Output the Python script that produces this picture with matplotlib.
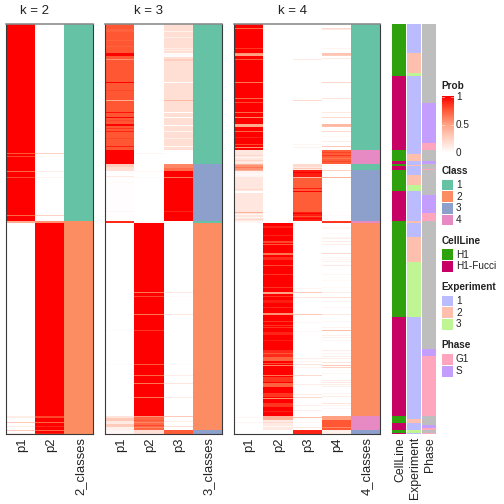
import numpy as np
import matplotlib
matplotlib.use("Agg")
import matplotlib.pyplot as plt
from matplotlib.colors import LinearSegmentedColormap, ListedColormap
from matplotlib.patches import Rectangle
from matplotlib.transforms import ScaledTranslation

plt.rcParams['font.family'] = ['Liberation Sans', 'DejaVu Sans']

N_ROWS = 410

# ---- probability columns: runs = (end_row, prob), lines = (row, prob) one row high
k2_p1_runs = [(197, 1.0), (199, .45), (392, 0), (394, .1), (410, 0)]
k2_p1_lines = [(129, .75), (132, .8), (147, .7), (153, .8), (191, .7), (398, .3), (402, .1), (406, .3), (409, .1)]
k2_p2_runs = [(197, 0), (199, .55), (392, 1.0), (394, .8), (410, 1.0)]
k2_p2_lines = [(129, .25), (132, .03), (147, .1), (153, .05), (191, .25), (398, .7), (402, .9), (406, .7), (409, .9)]
k2_classes_runs = [(197, 1), (410, 2)]

k3_p1_runs = [(5, .76), (8, .72), (29, .76), (32, 1.0), (88, .76), (89, .95), (126, .76), (140, 1.0), (143, .28), (147, .18), (197, .01), (199, .88),
              (392, 0), (394, .15), (397, .3), (400, .12), (403, .28), (406, .08), (410, .04)]
k3_p1_lines = [(16, .72), (22, .72), (35, .55), (58, 1), (66, .8), (76, .45), (93, 1), (96, .8), (100, 1), (101, 1), (104, .85), (107, .9), (114, .8), (122, .92),
               (152, .12), (158, .03), (187, .04), (306, .02), (340, .02)]
k3_p2_runs = [(197, 0), (199, .04), (392, 1.0), (406, .7), (410, .17)]
k3_p2_lines = [(129, .05), (147, .05), (153, .02), (268, .65), (272, .8), (290, .65), (306, .85), (340, .75), (351, .7), (359, .65), (373, .65),
               (392, .55), (396, .75), (398, .6), (401, .8), (403, .6)]
k3_p3_runs = [(29, .18), (33, .02), (35, .18), (37, .27), (126, .18), (140, 0), (144, .6), (147, .68), (197, 1.0), (199, .01), (406, 0), (410, .74)]
k3_p3_lines = [(7, .08), (13, .1), (24, .1), (26, .1), (58, 0), (76, .38), (88, 0), (93, 0), (101, 0), (107, .05), (114, .1), (122, .03),
               (153, .65), (187, .9), (268, .12), (272, .03), (290, .13), (340, .02), (351, .1), (359, .13), (373, .1),
               (392, .3), (397, .1), (402, .18)]
k3_classes_runs = [(140, 1), (197, 3), (199, 1), (406, 2), (410, 3)]

k4_p1_runs = [(126, 1.0), (140, .14), (147, .55), (153, .06), (197, .14), (199, .04), (410, 0)]
k4_p1_lines = [(4, .7), (24, .85), (29, .55), (30, .5), (31, .5), (35, .75), (58, .65), (74, .7), (78, .8), (88, .7), (93, .6), (100, .45), (101, .45), (102, .45),
               (107, .7), (113, .9), (120, .8), (123, .55),
               (131, .22), (133, .06), (136, .24), (138, .1), (140, .42), (143, .65), (146, .42), (150, .02), (165, .22), (167, 0), (168, 0),
               (188, .42), (190, .05), (193, .05), (195, .2),
               (393, .05), (398, .05)]
k4_p2_runs = [(199, 0), (202, 1.0), (204, .9), (217, 1.0), (219, .8), (229, 1.0), (231, .65), (233, 1.0), (236, .88), (268, 1.0), (270, .5), (276, 1.0), (279, .92),
              (289, 1.0), (291, .55), (308, 1.0), (311, .9), (326, 1.0), (333, .88), (337, .72), (353, 1.0), (358, .85), (359, 1.0), (363, .72),
              (369, 1.0), (373, .85), (379, 1.0), (383, .85), (392, 1.0), (396, .42), (406, .12), (410, 0)]
k4_p2_lines = [(211, .9), (220, .75), (241, .8), (250, .85), (263, .85), (272, .85), (283, .88), (297, .85), (301, .85), (303, .85), (316, .92), (329, .75),
               (339, .8), (341, .6), (351, .65), (374, .55), (387, .9), (398, .2), (402, .05)]
k4_p3_runs = [(140, 0), (143, .2), (146, .12), (153, .92), (188, .74), (197, .92), (392, 0), (406, 0), (410, .9)]
k4_p3_lines = [(35, .12), (76, .2), (120, .05), (123, .07), (144, .3), (148, 1), (153, .4), (154, .74), (164, .92), (167, 1), (189, 1), (192, .78), (194, 1),
               (264, .05), (268, .3), (273, .13), (290, .3), (298, .04), (307, .03), (334, .1), (337, .06), (340, .15), (343, .05), (351, .2),
               (360, .1), (370, .1), (373, .2), (381, .08), (386, .08), (393, .35), (398, .05), (403, .12)]
k4_p4_runs = [(126, 0), (140, .74), (197, 0), (199, .85), (392, 0), (396, .5), (406, .76), (410, .08)]
k4_p4_lines = [(4, .2), (5, .12), (24, .05), (29, .32), (30, .32), (31, .28), (34, .12), (58, .22), (74, .15), (88, .12), (93, .22), (100, .38), (101, .38), (102, .35),
               (107, .2), (112, .03), (117, .1), (122, .3), (128, .82), (131, .85), (134, .65), (137, .8),
               (141, .05), (146, .25), (153, .4), (191, .03), (204, .05), (209, .03), (213, .05), (203, .04), (214, .08), (217, .1), (220, .1), (229, .2),
               (233, .04), (235, .04), (237, .08), (241, .12), (250, .05), (256, .03), (263, .03), (268, .1), (273, .18), (277, .05), (283, .04), (290, .12), (297, .04), (303, .07),
               (306, .35), (311, .08), (313, .08), (316, .05), (326, .1), (329, .06), (332, .1), (334, .1), (338, .15), (341, .3), (343, .25), (349, .05),
               (356, .1), (358, .12), (360, .1), (362, .08), (369, .05), (372, .1), (379, .15), (381, .05), (384, .04), (403, .6)]
k4_classes_runs = [(126, 1), (140, 4), (146, 1), (197, 3), (199, 4), (392, 2), (406, 4), (410, 3)]

cellline_runs = [(52, 'H1'), (126, 'H1-Fucci'), (137, 'H1'), (140, 'H1-Fucci'), (142, 'H1'), (146, 'H1-Fucci'), (167, 'H1'), (197, 'H1-Fucci'),
                 (293, 'H1'), (392, 'H1-Fucci'), (399, 'H1'), (406, 'H1-Fucci'), (409, 'H1'), (410, 'H1-Fucci')]
experiment_runs = [(29, '1'), (49, '2'), (52, '3'), (130, '1'), (137, '2'), (141, '1'), (142, '2'), (151, '1'), (161, '2'), (167, '3'),
                   (197, '1'), (199, '2'), (213, '1'), (238, '2'), (293, '3'), (395, '1'), (399, '2'), (406, '1'), (409, '3'), (410, '1')]
phase_runs = [(79, 'NA'), (119, 'S'), (126, 'G1'), (137, 'NA'), (140, 'S'), (145, 'NA'), (146, 'G1'), (171, 'NA'), (189, 'S'), (197, 'G1'),
              (325, 'NA'), (332, 'S'), (392, 'G1'), (401, 'NA'), (404, 'S'), (406, 'G1'), (409, 'NA'), (410, 'G1')]

# ---- palette and labels
class_names = ['1', '2', '3', '4']
class_colors = ['#66C2A5', '#FC8D62', '#8DA0CB', '#E78AC3']
cell_names = ['H1', 'H1-Fucci']
cell_colors = ['#2EA10D', '#C70066']
exp_names = ['1', '2', '3']
exp_colors = ['#BBBBFF', '#FFBFAE', '#BFF593']
phase_names = ['G1', 'S']
phase_colors = ['#FFA6BE', '#C39EFF']
phase_na = '#BEBEBE'
prob_cmap = LinearSegmentedColormap.from_list('prob', [(0, '#FFFFFF'), (.25, '#FFD2C4'), (.5, '#FFA284'), (.75, '#FF5A36'), (1, '#FF0000')])


def expand(runs, lines=()):
    col = np.zeros(N_ROWS)
    start = 0
    for end, v in runs:
        col[start:end] = v
        start = end
    for row, v in lines:
        col[row:row + 1] = v
    return col


def cat_rows(runs, names):
    col = np.zeros(N_ROWS, dtype=int)
    start = 0
    for end, v in runs:
        col[start:end] = names.index(v)
        start = end
    return col


W = H = 504
fig = plt.figure(figsize=(7, 7), dpi=72)
shift = ScaledTranslation(1.5 / 72, 0, fig.dpi_scale_trans)


def px_axes(x0, y0, x1, y1):
    return fig.add_axes([x0 / W, 1 - y1 / H, (x1 - x0) / W, (y1 - y0) / H])


def panel(x0, x1, title, title_x, prob_cols, labels, classes):
    ax = px_axes(x0, 24, x1, 434)
    n = len(prob_cols)
    ax.imshow(np.column_stack(prob_cols), aspect='auto', cmap=prob_cmap, vmin=0, vmax=1, interpolation='nearest',
              extent=(0, n, N_ROWS, 0))
    ax.imshow(classes[:, None] - 1, aspect='auto', cmap=ListedColormap(class_colors), vmin=0, vmax=3, interpolation='nearest',
              extent=(n, n + 1, N_ROWS, 0))
    ax.set_xlim(0, n + 1)
    ax.set_ylim(N_ROWS, 0)
    ax.set_yticks([])
    ax.set_xticks(np.arange(n + 1) + .5)
    ax.set_xticklabels(labels, rotation=90, fontsize=13, color='#222222')
    ax.tick_params(axis='x', length=0, pad=3)
    for t in ax.get_xticklabels():
        t.set_transform(t.get_transform() + shift)
    for s in ax.spines.values():
        s.set_linewidth(1.1)
        s.set_color('#3a3a3a')
    ax.spines['top'].set_color('#8a8a8a')
    ax.spines['top'].set_linewidth(1.6)
    fig.text(title_x / W, 1 - 11 / H, title, fontsize=13.2, ha='center', va='center', color='#222222')
    return ax


panel(5.5, 93.5, 'k = 2', 35, [expand(k2_p1_runs, k2_p1_lines), expand(k2_p2_runs, k2_p2_lines)],
      ['p1', 'p2', '2_classes'], expand(k2_classes_runs).astype(int))
panel(105, 222, 'k = 3', 149, [expand(k3_p1_runs, k3_p1_lines), expand(k3_p2_runs, k3_p2_lines), expand(k3_p3_runs, k3_p3_lines)],
      ['p1', 'p2', 'p3', '3_classes'], expand(k3_classes_runs).astype(int))
panel(233.5, 380, 'k = 4', 292, [expand(k4_p1_runs, k4_p1_lines), expand(k4_p2_runs, k4_p2_lines), expand(k4_p3_runs, k4_p3_lines), expand(k4_p4_runs, k4_p4_lines)],
      ['p1', 'p2', 'p3', 'p4', '4_classes'], expand(k4_classes_runs).astype(int))


def annot(x0, x1, rows, colors, label):
    ax = px_axes(x0, 24, x1, 434)
    ax.imshow(rows[:, None], aspect='auto', cmap=ListedColormap(colors), vmin=0, vmax=len(colors) - 1, interpolation='nearest')
    ax.set_yticks([])
    ax.set_xticks([0])
    ax.set_xticklabels([label], rotation=90, fontsize=12.2, color='#222222')
    ax.tick_params(axis='x', length=0, pad=3)
    for t in ax.get_xticklabels():
        t.set_transform(t.get_transform() + shift)
    for s in ax.spines.values():
        s.set_visible(False)


annot(392, 406, cat_rows(cellline_runs, cell_names), cell_colors, 'CellLine')
annot(407, 421, cat_rows(experiment_runs, exp_names), exp_colors, 'Experiment')
annot(422, 436, cat_rows(phase_runs, phase_names + ['NA']), phase_colors + [phase_na], 'Phase')

# ---- legends, drawn on an overlay in pixel units
ov = fig.add_axes([0, 0, 1, 1], zorder=5)
ov.set_xlim(0, W)
ov.set_ylim(H, 0)
ov.axis('off')

prob_ticks = [1, .5, 0]
prob_tick_labels = ['1', '0.5', '0']
cax = px_axes(441.5, 96, 453.5, 153)
cax.imshow(np.linspace(1, 0, 100)[:, None], aspect='auto', cmap=prob_cmap, vmin=0, vmax=1, extent=(0, 1, 0, 1))
cax.axis('off')
cax.set_zorder(6)
for t, lab in zip(prob_ticks, prob_tick_labels):
    y = 153 - 56 * t
    ov.text(456, y, lab, fontsize=10, va='center', ha='left', color='#222222')
    if t:
        cax.plot([0, .2], [t - (.01 if t == 1 else 0)] * 2, color='white', lw=.6, alpha=.9)
        cax.plot([.8, 1], [t - (.01 if t == 1 else 0)] * 2, color='white', lw=.6, alpha=.9)
cax.set_xlim(0, 1)
cax.set_ylim(0, 1)


def legend(title, title_y, first_y, names, colors):
    ov.text(441.5, title_y, title, fontsize=10, fontweight='bold', va='center', ha='left', color='#222222')
    for i, (nm, c) in enumerate(zip(names, colors)):
        yc = first_y + i * 11.7
        ov.add_patch(Rectangle((441.5, yc - 5.3), 11.5, 10.6, facecolor=c, edgecolor='none'))
        ov.text(456, yc, nm, fontsize=10, va='center', ha='left', color='#222222')


ov.text(441.5, 86, 'Prob', fontsize=10, fontweight='bold', va='center', ha='left', color='#222222')
legend('Class', 170.5, 185, class_names, class_colors)
legend('CellLine', 240.5, 254.5, cell_names, cell_colors)
legend('Experiment', 287.5, 301, exp_names, exp_colors)
legend('Phase', 345.5, 359.5, phase_names, phase_colors)

fig.savefig('out.png', dpi=72, facecolor='white')
